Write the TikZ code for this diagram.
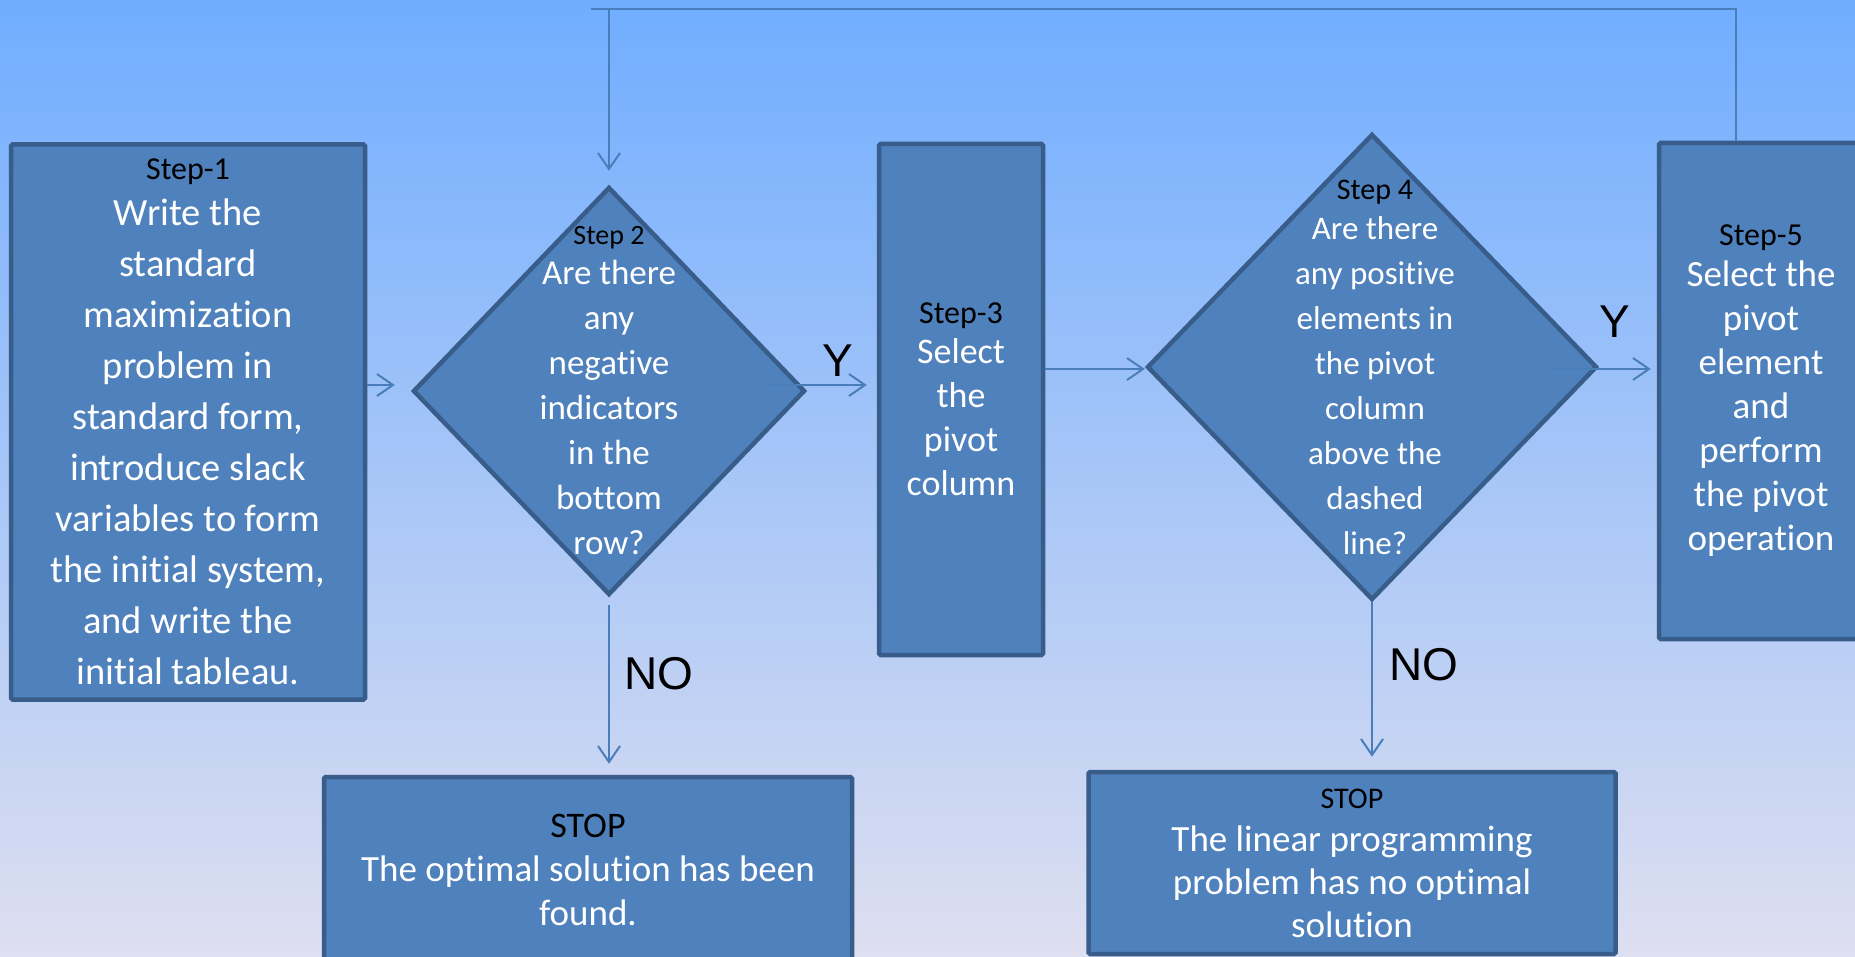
\documentclass[tikz,border=0pt]{standalone}
\usepackage{fontspec}
\setmainfont{Carlito}[Ligatures=NoCommon]
\newfontfamily\arialf{Liberation Sans}
\usetikzlibrary{shapes.geometric,arrows.meta,calc}
\definecolor{bgtop}{RGB}{112,173,255}
\definecolor{bgbot}{RGB}{222,223,240}
\definecolor{boxfill}{RGB}{79,129,189}
\definecolor{boxline}{RGB}{56,93,138}
\definecolor{conncol}{RGB}{74,126,187}
\newcommand\steplbl[2]{{\color{black}\fontsize{#1}{#1}\selectfont #2}}
\begin{document}
\begin{tikzpicture}[x=1pt,y=-1pt,
  box/.style={rectangle, fill=boxfill, draw=boxline, line width=4.5pt, rounded corners=1.5pt, inner sep=0pt, text=white, align=center},
  dia/.style={diamond, fill=boxfill, draw=boxline, line width=4.5pt, inner sep=0pt},
  dtext/.style={text=white, align=center, inner sep=0pt},
  conn/.style={draw=conncol, line width=2pt},
  arrow/.style={conn, -{Straight Barb[length=16pt,width=22pt]}},
  yn/.style={font=\arialf\fontsize{46}{50}\selectfont, text=black, inner sep=0pt}]
\useasboundingbox (0,0) rectangle (1855,957);
\clip (0,0) rectangle (1855,957);
\shade[top color=bgtop, bottom color=bgbot] (0,0) rectangle (1855,957);

% nodes
\node[box, minimum width=354pt, minimum height=555pt, font=\fontsize{38.5}{51}\selectfont] (s1) at (188,422)
  {\steplbl{32}{Step-1}\\[-5pt] Write the\\ standard\\ maximization\\ problem in\\ standard form,\\ introduce slack\\ variables to form\\ the initial system,\\ and write the\\ initial tableau.};

\node[dia, minimum width=392pt, minimum height=408pt] (d2) at (609,391) {};
\node[dtext, font=\fontsize{35}{45}\selectfont] (d2t) at (d2.center)
  {\steplbl{28}{Step 2}\\[-5pt] Are there\\ any\\ negative\\ indicators\\ in the\\ bottom\\ row?};

\node[box, minimum width=164pt, minimum height=511pt, font=\fontsize{36}{44}\selectfont] (s3) at (961,399.5)
  {\steplbl{32}{Step-3}\\[-4pt] Select\\ the\\ pivot\\ column};

\node[dia, minimum width=450pt, minimum height=466pt] (d4) at (1372,367) {};
\node[dtext, font=\fontsize{33}{45}\selectfont] (d4t) at ([xshift=3pt]d4.center)
  {\steplbl{30}{Step 4}\\[-5pt] Are there\\ any positive\\ elements in\\ the pivot\\ column\\ above the\\ dashed\\ line?};

\node[box, minimum width=204pt, minimum height=496pt, font=\fontsize{37}{44}\selectfont] (s5) at (1761,391)
  {\steplbl{32}{Step-5}\\[-3pt] Select the\\ pivot\\ element\\ and\\ perform\\ the pivot\\ operation};

\node[box, minimum width=528pt, minimum height=186pt, font=\fontsize{37}{44}\selectfont] (stop1) at (588,870)
  {\steplbl{36}{STOP}\\ The optimal solution has been\\ found.};

\node[box, minimum width=527pt, minimum height=182pt, font=\fontsize{37}{43}\selectfont] (stop2) at (1352,863)
  {\steplbl{30}{STOP}\\ The linear programming\\ problem has no optimal\\ solution};

% labels
\node[yn] (y1) at (838,361) {Y};
\node[yn] (y2) at (1615,322) {Y};
\node[yn] (no1) at (659,674) {NO};
\node[yn] (no2) at (1424,665) {NO};

% helper rows
\coordinate (r1) at (0,385);
\coordinate (r2) at (0,369);
\coordinate (rtop) at (0,9);

% connectors
\draw[arrow, shorten >=16pt] (s1.east |- r1) -- (d2.west |- r1);
\draw[arrow] ($(d2.east |- r1)+(-38,0)$) -- ($(s3.west |- r1)+(-10,0)$);
\draw[arrow] (s3.east |- r2) -- (d4.west |- r2);
\draw[arrow] ($(d4.east |- r2)+(-47,0)$) -- ($(s5.west |- r2)+(-6,0)$);
\draw[arrow] ($(d2.south)+(0,8)$) -- ($(stop1.north -| d2.south)+(0,-11)$);
\draw[arrow] (d4.south) -- ($(stop2.north -| d4.south)+(0,-13)$);
\draw[conn] ($(s5.north)+(-25,0)$) |- ($(d2.north |- rtop)+(-18,0)$);
\draw[arrow] (d2.north |- rtop) -- ($(d2.north)+(0,-14)$);
\end{tikzpicture}
\end{document}
